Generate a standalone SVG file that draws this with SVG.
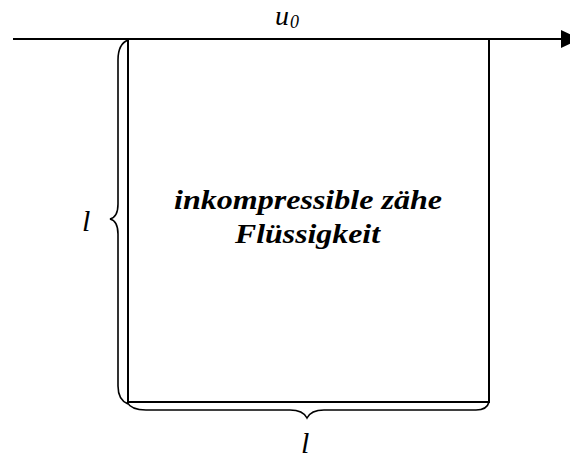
<svg xmlns="http://www.w3.org/2000/svg" width="570" height="461" viewBox="0 0 570 461">
<style>
.ln{fill:none;stroke:#000;stroke-width:2}
.br{fill:none;stroke:#000;stroke-width:1.6}
.t{font-family:"Liberation Serif","Times New Roman",Times,serif;font-style:italic;fill:#000}
.b{font-weight:bold;font-size:28px}
</style>
<g id="connectors">
<line class="ln" x1="13" y1="39" x2="563" y2="39"/>
<path d="M561,30 L580,39 L561,48 Z" fill="#000"/>
</g>
<g id="box">
<path class="ln" d="M128,39 L128,402 L489,402 L489,39"/>
</g>
<g id="leftBrace">
<path class="br" d="M128,40 Q118,44 118,60 L118,204 Q118,217 110,219 Q118,221 118,234 L118,386 Q118,400 128,404"/>
</g>
<g id="bottomBrace">
<path class="br" d="M127,402 Q131,410 146,410 L290,410 Q303,410 307,418 Q311,410 324,410 L476,410 Q487,410 489,402"/>
</g>
<g id="labels">
<text class="t" x="275" y="25" font-size="28">u<tspan x="290" y="28" font-size="18">0</tspan></text>
<text class="t" x="82" y="231" font-size="30">l</text>
<text class="t" x="301" y="453" font-size="30">l</text>
<text class="t b" x="174" y="209" textLength="268" lengthAdjust="spacingAndGlyphs">inkompressible zähe</text>
<text class="t b" x="235" y="243" textLength="145" lengthAdjust="spacingAndGlyphs">Flüssigkeit</text>
</g>
</svg>
